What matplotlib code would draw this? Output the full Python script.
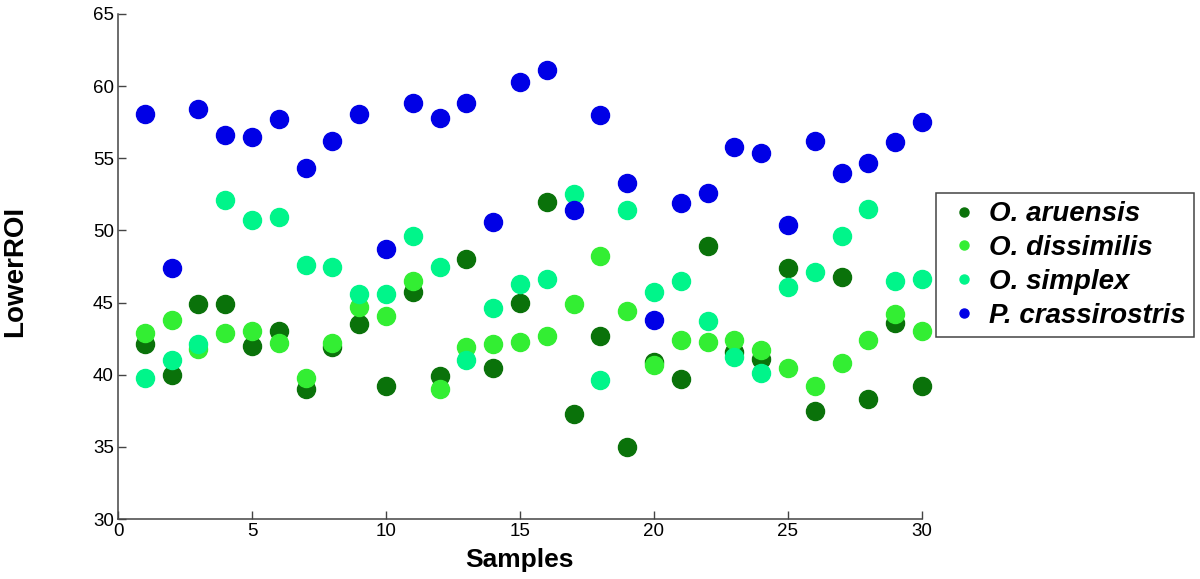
import matplotlib
matplotlib.use("Agg")
import matplotlib.pyplot as plt

samples = list(range(1, 31))
species = ["O. aruensis", "O. dissimilis", "O. simplex", "P. crassirostris"]
colors = ["#0a720a", "#33ee33", "#00f58a", "#0000e6"]

aruensis = [42.1, 40.0, 44.9, 44.9, 42.0, 43.0, 39.0, 41.9, 43.5, 39.2,
            45.7, 39.9, 48.0, 40.5, 45.0, 52.0, 37.3, 42.7, 35.0, 40.9,
            39.7, 48.9, 41.6, 41.1, 47.4, 37.5, 46.8, 38.3, 43.6, 39.2]
dissimilis = [42.9, 43.8, 41.8, 42.9, 43.0, 42.2, 39.8, 42.2, 44.7, 44.1,
              46.5, 39.0, 41.9, 42.1, 42.3, 42.7, 44.9, 48.2, 44.4, 40.7,
              42.4, 42.3, 42.4, 41.7, 40.5, 39.2, 40.8, 42.4, 44.2, 43.0]
simplex = [39.8, 41.0, 42.1, 52.1, 50.7, 50.9, 47.6, 47.5, 45.6, 45.6,
           49.6, 47.5, 41.0, 44.6, 46.3, 46.6, 52.5, 39.6, 51.4, 45.7,
           46.5, 43.7, 41.2, 40.1, 46.1, 47.1, 49.6, 51.5, 46.5, 46.6]
crassirostris = [58.1, 47.4, 58.4, 56.6, 56.5, 57.7, 54.3, 56.2, 58.1, 48.7,
                 58.8, 57.8, 58.8, 50.6, 60.3, 61.1, 51.4, 58.0, 53.3, 43.8,
                 51.9, 52.6, 55.8, 55.4, 50.4, 56.2, 54.0, 54.7, 56.1, 57.5]
series = [aruensis, dissimilis, simplex, crassirostris]

xticks = [0, 5, 10, 15, 20, 25, 30]
yticks = [30, 35, 40, 45, 50, 55, 60, 65]

plt.rcParams['font.family'] = ['Liberation Sans', 'DejaVu Sans']

W, H = 1200, 579
fig = plt.figure(figsize=(W / 100, H / 100), dpi=100)
ax = fig.add_axes([118 / W, 1 - 519 / H, 804 / W, 505 / H])

for name, vals, c in zip(species, series, colors):
    ax.plot(samples, vals, linestyle='none', marker='o', markersize=13,
            markerfacecolor=c, markeredgecolor=c, label=name, clip_on=False)

ax.set_xlim(0, 30)
ax.set_ylim(30, 65)
ax.set_xticks(xticks)
ax.set_yticks(yticks)
ax.tick_params(direction='in', length=6, width=1, labelsize=13.5, pad=3,
               color='#444444')
for s in ['top', 'right']:
    ax.spines[s].set_visible(False)
for s in ['left', 'bottom']:
    ax.spines[s].set_linewidth(1.1)
    ax.spines[s].set_color('#444444')

fig.text(519 / W, 1 - 560 / H, "Samples", fontsize=19, fontweight='bold',
         ha='center', va='center')
fig.text(15.5 / W, 1 - 271 / H, "LowerROI", fontsize=20, fontweight='bold',
         ha='center', va='center', rotation=90)

leg = ax.legend(loc='upper left', bbox_to_anchor=(936 / W, 1 - 193 / H),
                bbox_transform=fig.transFigure, borderaxespad=0,
                markerscale=0.5,
                prop={'size': 20, 'style': 'italic', 'weight': 'bold'},
                frameon=True, fancybox=False, edgecolor='#444444',
                framealpha=1, handletextpad=0.15, borderpad=0.3,
                labelspacing=0.28, handlelength=1.45)
leg.get_frame().set_linewidth(1.1)

fig.savefig("out.png", dpi=100)
